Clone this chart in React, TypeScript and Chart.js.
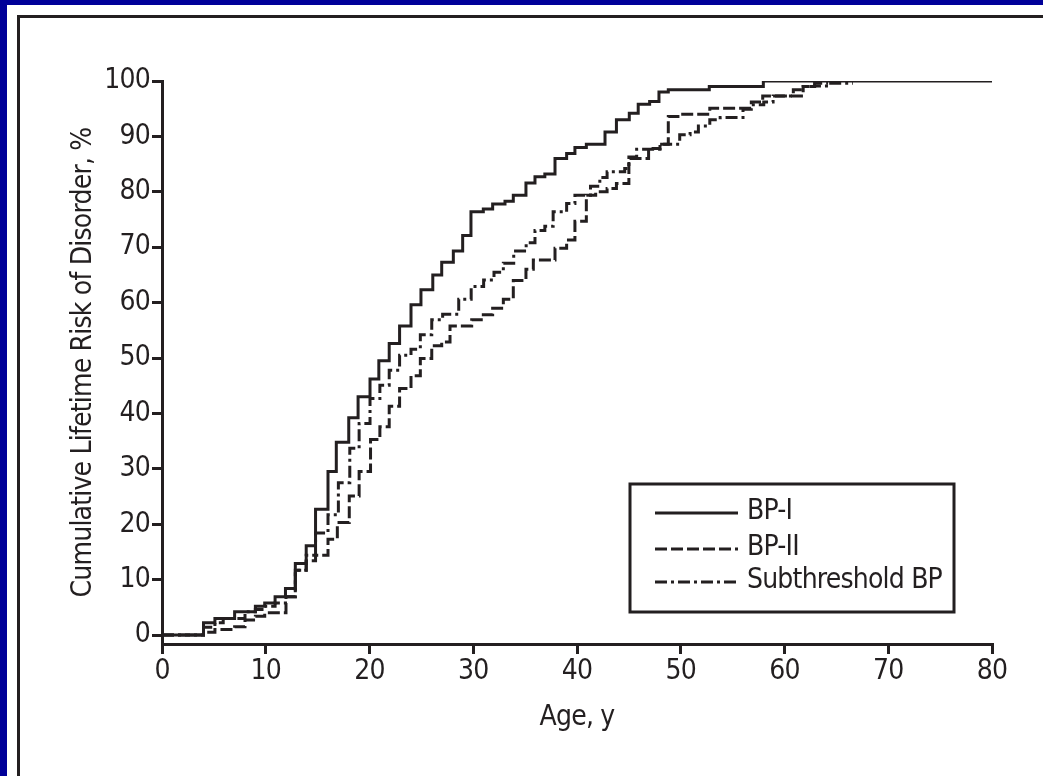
import React, { useEffect, useRef } from 'react';
import { Chart, registerables } from 'chart.js';

Chart.register(...registerables);

const INK = '#231f20';
const BLUE = '#000099';
const FONT = '"Liberation Sans Narrow", "Arial Narrow", "DejaVu Sans Condensed", sans-serif';
const FONT_SIZE = 28;
const LETTER_SPACING = '-0.8px';

const seriesLabels = ['BP-I', 'BP-II', 'Subthreshold BP'];
const xTickValues = [0, 10, 20, 30, 40, 50, 60, 70, 80];
const yTickValues = [0, 10, 20, 30, 40, 50, 60, 70, 80, 90, 100];

const bp1Ages = [0, 4.0, 5.1, 7.0, 9.0, 9.9, 10.9, 11.9, 12.85, 13.9, 14.8, 16.0, 16.8, 18.0, 18.9, 20.05, 20.9, 21.9, 22.9, 24.0, 24.96, 26.1, 26.96, 28.08, 28.98, 29.78, 30.97, 31.87, 33.06, 33.86, 35.08, 35.95, 36.9, 37.88, 39.0, 39.8, 40.9, 42.7, 43.8, 45.04, 45.9, 47.0, 47.9, 48.8, 52.75, 57.96, 80];
const bp1Risk = [0, 2.2, 3.0, 4.2, 5.2, 5.8, 6.9, 8.4, 12.9, 16.1, 22.7, 29.5, 34.8, 39.2, 43.0, 46.2, 49.5, 52.6, 55.8, 59.6, 62.3, 65.0, 67.3, 69.3, 72.1, 76.4, 76.9, 77.8, 78.3, 79.4, 81.6, 82.7, 83.2, 86.0, 86.9, 88.0, 88.6, 90.8, 93.0, 94.2, 95.8, 96.3, 98.0, 98.4, 99.0, 100, 100];

const bp2Ages = [0, 4.0, 5.1, 7.0, 8.0, 9.0, 9.9, 11.95, 12.85, 13.9, 14.8, 16.0, 16.9, 18.05, 19.0, 20.1, 21.0, 21.9, 22.9, 24.0, 24.9, 26.0, 26.96, 27.76, 29.85, 30.97, 31.87, 32.9, 33.86, 35.08, 35.79, 37.88, 39.0, 39.8, 40.9, 41.8, 42.9, 43.8, 45.0, 46.9, 48.0, 48.8, 49.9, 52.8, 56.8, 57.9, 61.8, 62.9, 64.2];
const bp2Risk = [0, 0.5, 1.0, 1.5, 2.7, 3.4, 4.0, 6.9, 11.7, 13.4, 14.4, 17.3, 20.3, 25.1, 29.5, 35.3, 37.6, 41.3, 44.5, 46.8, 49.9, 52.2, 52.9, 55.8, 56.9, 57.8, 59.0, 60.6, 64.0, 66.0, 67.7, 69.8, 71.3, 74.7, 79.4, 80.0, 80.6, 81.5, 86.0, 87.8, 88.6, 93.6, 94.0, 95.1, 96.2, 97.3, 99.0, 99.6, 99.6];

const subAges = [0, 4.0, 5.1, 5.9, 8.0, 9.0, 9.9, 10.9, 11.9, 12.85, 13.9, 14.8, 16.0, 17.0, 18.1, 19.0, 20.05, 21.0, 21.9, 22.9, 24.0, 24.9, 26.0, 27.05, 28.6, 29.8, 31.0, 32.0, 32.9, 33.9, 35.1, 35.95, 36.9, 37.7, 39.0, 39.8, 41.3, 42.2, 42.9, 44.6, 45.0, 45.75, 48.0, 49.9, 50.9, 51.7, 52.8, 53.8, 56.0, 56.8, 58.0, 58.9, 60.85, 61.8, 62.9, 64.2, 66.6];
const subRisk = [0, 1.4, 2.2, 3.0, 4.2, 4.6, 5.2, 5.8, 6.9, 11.7, 14.4, 18.4, 21.7, 27.5, 33.7, 38.2, 42.7, 45.1, 47.8, 50.5, 51.6, 54.2, 56.9, 57.9, 60.6, 62.9, 64.1, 65.5, 67.1, 69.3, 70.8, 73.0, 73.8, 76.4, 77.9, 79.4, 81.0, 82.6, 83.6, 84.2, 86.3, 87.7, 88.6, 90.3, 90.8, 91.9, 93.0, 93.4, 94.9, 95.7, 96.2, 97.3, 98.4, 99.0, 99.1, 99.6, 99.6];

const seriesDash: number[][] = [[], [12, 4], [12, 4, 3, 4]];

const toPoints = (ages: number[], risk: number[]) => ages.map((x, i) => ({ x, y: risk[i] }));

const setSpacing = (chart: any) => {
  if (chart && chart.ctx && 'letterSpacing' in chart.ctx) chart.ctx.letterSpacing = LETTER_SPACING;
};

const spacingPlugin = {
  id: 'spacing',
  beforeInit: setSpacing,
  beforeLayout: setSpacing,
  beforeDraw: setSpacing,
};

const legendBoxPlugin = {
  id: 'legendBox',
  afterDraw(chart: any) {
    const ctx = chart.ctx;
    ctx.save();
    ctx.strokeStyle = INK;
    ctx.fillStyle = INK;
    ctx.lineWidth = 3;
    ctx.setLineDash([]);
    ctx.strokeRect(630, 484, 324, 128);
    const rowsY = [513, 549, 582];
    ctx.font = `${FONT_SIZE}px ${FONT}`;
    ctx.textBaseline = 'middle';
    ctx.textAlign = 'left';
    chart.data.datasets.forEach((ds: any, i: number) => {
      const y = rowsY[i];
      ctx.setLineDash(ds.borderDash || []);
      ctx.beginPath();
      ctx.moveTo(655, y);
      ctx.lineTo(738, y);
      ctx.stroke();
      ctx.setLineDash([]);
      ctx.fillText(ds.label, 747, y - 1);
    });
    ctx.restore();
  },
};

export default function App() {
  const ref = useRef<HTMLCanvasElement>(null);
  useEffect(() => {
    document.body.style.margin = '0';
    const font = { family: FONT, size: FONT_SIZE };
    const axisCommon = {
      grid: { drawOnChartArea: false, drawTicks: true, tickLength: 10, tickWidth: 3, tickColor: INK, lineWidth: 3, color: INK },
      border: { display: true, width: 3, color: INK },
    };
    const chart = new Chart(ref.current as HTMLCanvasElement, {
      type: 'line',
      data: {
        datasets: [
          { label: seriesLabels[0], data: toPoints(bp1Ages, bp1Risk), borderColor: INK, borderWidth: 3, stepped: true, pointRadius: 0, fill: false, borderDash: seriesDash[0] },
          { label: seriesLabels[1], data: toPoints(bp2Ages, bp2Risk), borderColor: INK, borderWidth: 3, stepped: true, pointRadius: 0, fill: false, borderDash: seriesDash[1] },
          { label: seriesLabels[2], data: toPoints(subAges, subRisk), borderColor: INK, borderWidth: 3, stepped: true, pointRadius: 0, fill: false, borderDash: seriesDash[2] },
        ],
      },
      options: {
        responsive: false,
        animation: false,
        layout: { padding: { left: 0, top: 81, right: 51, bottom: 0 } },
        plugins: { legend: { display: false }, tooltip: { enabled: false } },
        scales: {
          x: {
            type: 'linear',
            min: 0,
            max: 80,
            afterBuildTicks: (s: any) => { s.ticks = xTickValues.map((v) => ({ value: v })); },
            afterFit: (s: any) => { s.height = 132; },
            ...axisCommon,
            ticks: { font, color: INK, padding: 1, maxRotation: 0, autoSkip: false },
            title: { display: true, text: 'Age, y', font, color: INK, padding: { top: 0, bottom: 41 } },
          },
          y: {
            type: 'linear',
            min: -1.62,
            max: 100,
            afterBuildTicks: (s: any) => { s.ticks = yTickValues.map((v) => ({ value: v })); },
            afterFit: (s: any) => { s.width = 162; },
            ...axisCommon,
            ticks: { font, color: INK, padding: 2, autoSkip: false },
            title: { display: true, text: 'Cumulative Lifetime Risk of Disorder, %', font, color: INK, padding: { top: 67, bottom: 0 } },
          },
        },
      } as any,
      plugins: [spacingPlugin, legendBoxPlugin],
    });
    return () => chart.destroy();
  }, []);

  return (
    <div style={{ position: 'fixed', left: 0, top: 0, width: 1043, height: 776, background: '#ffffff', overflow: 'hidden' }}>
      <div style={{ position: 'absolute', left: 0, top: 0, width: 1043, height: 5, background: BLUE }} />
      <div style={{ position: 'absolute', left: 0, top: 0, width: 7, height: 776, background: BLUE }} />
      <div style={{ position: 'absolute', left: 17, top: 15, width: 1026, height: 3, background: INK }} />
      <div style={{ position: 'absolute', left: 17, top: 15, width: 3, height: 761, background: INK }} />
      <canvas ref={ref} width={1043} height={776} style={{ position: 'absolute', left: 0, top: 0, width: 1043, height: 776 }} />
    </div>
  );
}
